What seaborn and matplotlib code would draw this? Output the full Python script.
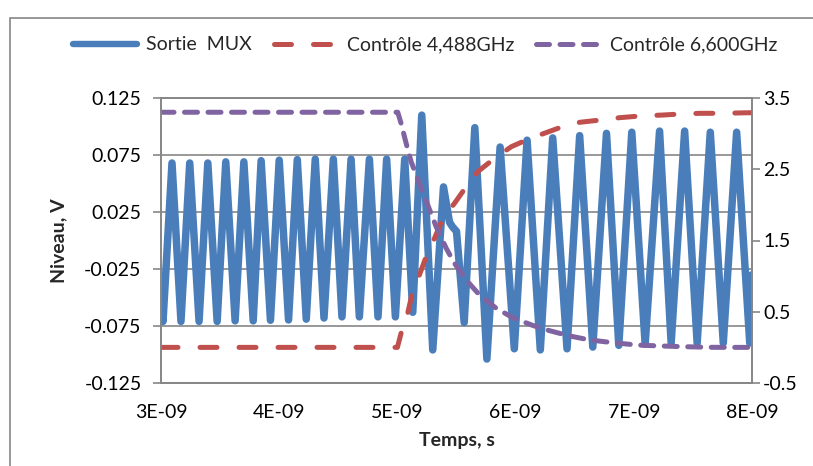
import matplotlib
matplotlib.use("Agg")
import matplotlib.pyplot as plt
import seaborn as sns
import pandas as pd
from matplotlib.patches import Rectangle
from matplotlib.lines import Line2D

sns.set_theme(style="white")
plt.rcParams['font.family'] = ['Lato', 'DejaVu Sans']

# ---- data (time in ns) ----
mux_t = [3.000, 3.017, 3.093, 3.169, 3.243, 3.322, 3.396, 3.475, 3.548, 3.627, 3.701,
         3.780, 3.847, 3.926, 4.000, 4.079, 4.153, 4.229, 4.305, 4.379, 4.458,
         4.531, 4.608, 4.678, 4.763, 4.836, 4.909, 4.983, 5.062, 5.130, 5.206,
         5.299, 5.390, 5.441, 5.466, 5.500, 5.565, 5.655, 5.757, 5.869, 5.989,
         6.097, 6.209, 6.314, 6.435, 6.542, 6.653, 6.769, 6.873, 6.983, 7.096,
         7.218, 7.316, 7.430, 7.536, 7.647, 7.757, 7.870, 7.981, 8.000]
mux_v = [-0.050, -0.071, 0.068, -0.071, 0.068, -0.071, 0.068, -0.071, 0.069, -0.0705, 0.069,
         -0.0705, 0.070, -0.070, 0.0705, -0.0697, 0.071, -0.069, 0.0714, -0.068, 0.0714,
         -0.067, 0.0714, -0.067, 0.0714, -0.067, 0.0714, -0.067, 0.0714, -0.063, 0.110,
         -0.096, 0.047, 0.016, 0.012, 0.008, -0.072, 0.099, -0.104, 0.082, -0.095,
         0.088, -0.096, 0.090, -0.095, 0.092, -0.0935, 0.094, -0.092, 0.095, -0.091,
         0.096, -0.090, 0.096, -0.090, 0.095, -0.090, 0.095, -0.090, -0.030]

ctrl1_t = [3.000, 5.000, 5.031, 5.087, 5.125, 5.186, 5.248, 5.314, 5.384, 5.483, 5.582,
           5.680, 5.822, 5.964, 6.119, 6.373, 6.542, 6.712, 6.881, 7.051, 7.246,
           7.390, 7.559, 7.729, 8.000]
ctrl1_v = [0.0, 0.0, 0.198, 0.478, 0.759, 1.016, 1.296, 1.531, 1.812, 2.022, 2.255,
           2.466, 2.654, 2.817, 2.930, 3.083, 3.159, 3.190, 3.224, 3.247, 3.261,
           3.275, 3.285, 3.285, 3.294]

ctrl2_t = [3.000, 5.003, 5.031, 5.074, 5.116, 5.186, 5.257, 5.328, 5.413, 5.483, 5.582,
           5.695, 5.836, 5.977, 6.147, 6.288, 6.458, 6.627, 6.797, 7.023, 7.220,
           7.418, 7.644, 7.842, 8.000]
ctrl2_v = [3.3, 3.3, 3.145, 2.864, 2.606, 2.303, 1.998, 1.694, 1.391, 1.180, 0.946,
           0.735, 0.549, 0.416, 0.307, 0.234, 0.160, 0.104, 0.071, 0.033, 0.020,
           0.010, 0.001, 0.0, 0.0]

x_ticks = [3, 4, 5, 6, 7, 8]
x_tick_labels = ["3E-09", "4E-09", "5E-09", "6E-09", "7E-09", "8E-09"]
y_ticks = [-0.125, -0.075, -0.025, 0.025, 0.075, 0.125]
y2_ticks = [-0.5, 0.5, 1.5, 2.5, 3.5]
series_names = ["Sortie  MUX", "Contrôle 4,488GHz", "Contrôle 6,600GHz"]

BLUE = "#4A7EBB"
RED = "#C0504D"
PURPLE = "#8064A2"
GREY = "#868686"
FS = 14
RED_DASH = (0, (3.4, 4.4))
PUR_DASH = (0, (2.6, 2.1))

fig = plt.figure(figsize=(8.13, 4.66), dpi=100)
fig.patch.set_facecolor("white")
fig.patches.append(Rectangle((10 / 813, -0.5), 2.0, 1 - 18 / 466 + 0.5,
                             transform=fig.transFigure, fill=False,
                             edgecolor=GREY, linewidth=1.2))

ax = fig.add_axes([161 / 813, 1 - 383 / 466, (752 - 161) / 813, (383 - 98) / 466])
ax2 = ax.twinx()

df_mux = pd.DataFrame({"t": mux_t, "v": mux_v})
df_c1 = pd.DataFrame({"t": ctrl1_t, "v": ctrl1_v})
df_c2 = pd.DataFrame({"t": ctrl2_t, "v": ctrl2_v})

sns.lineplot(data=df_mux, x="t", y="v", ax=ax, color=BLUE, linewidth=5.4,
             solid_joinstyle="round", solid_capstyle="round", sort=False)
sns.lineplot(data=df_c1, x="t", y="v", ax=ax2, color=RED, linewidth=3.6,
             linestyle=RED_DASH, dash_capstyle="round", sort=False)
sns.lineplot(data=df_c2, x="t", y="v", ax=ax2, color=PURPLE, linewidth=3.6,
             linestyle=PUR_DASH, dash_capstyle="round", sort=False)

ax.set_xlim(3, 8)
ax.set_ylim(-0.125, 0.125)
ax2.set_ylim(-0.5, 3.5)
ax.set_xticks(x_ticks)
ax.set_xticklabels(x_tick_labels)
ax.set_yticks(y_ticks)
ax.set_yticklabels([f"{v:.3f}" for v in y_ticks])
ax2.set_yticks(y2_ticks)
ax2.set_yticklabels([f"{v:.1f}" for v in y2_ticks])

ax.yaxis.grid(True, color=GREY, linewidth=1.2)
ax.xaxis.grid(False)
ax.set_axisbelow(True)
for a in (ax, ax2):
    for s in a.spines.values():
        s.set_color(GREY)
        s.set_linewidth(1.2)
ax.tick_params(axis="both", direction="out", length=6, width=1.2, color=GREY,
               labelsize=FS, labelcolor="black")
ax.tick_params(axis="x", pad=9)
ax.tick_params(axis="y", pad=8)
ax2.tick_params(axis="y", direction="out", length=6, width=1.2, color=GREY,
                labelsize=FS, labelcolor="black", pad=2)
ax.set_xlabel("Temps, s", fontsize=FS, fontweight="bold", labelpad=8)
ax.set_ylabel("Niveau, V", fontsize=FS, fontweight="bold", labelpad=12)
ax2.set_ylabel("")

handles = [Line2D([], [], color=BLUE, linewidth=4.6, solid_capstyle="round"),
           Line2D([], [], color=RED, linewidth=3.6, linestyle=RED_DASH, dash_capstyle="round"),
           Line2D([], [], color=PURPLE, linewidth=3.6, linestyle=PUR_DASH, dash_capstyle="round")]
fig.legend(handles, series_names, loc="center", bbox_to_anchor=(425 / 813, 1 - 45 / 466),
           ncol=3, frameon=False, fontsize=FS, handlelength=3.3, columnspacing=1.1,
           handletextpad=0.5)

fig.savefig("out.png", dpi=100, facecolor="white")
